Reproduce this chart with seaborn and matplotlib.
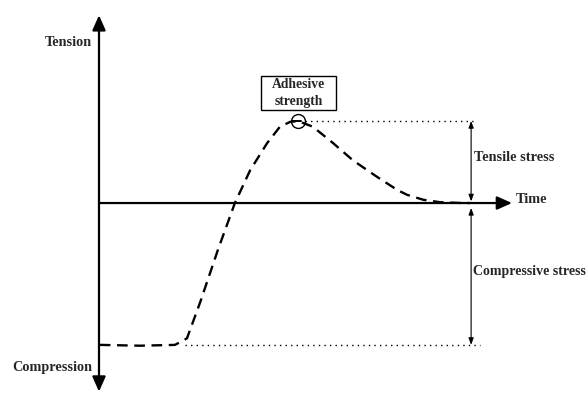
import numpy as np
import pandas as pd
import seaborn as sns
import matplotlib.pyplot as plt
from matplotlib.patches import Rectangle

# curva de tensão na interface ao longo do tempo (unidades arbitrárias)
tempo = [0.02, 0.99, 1.84, 2.13, 2.45, 2.88, 3.29, 3.66, 4.07, 4.38, 4.63, 4.82,
         5.18, 5.67, 6.15, 6.73, 7.22, 7.46, 7.85, 8.26, 8.79, 8.98]
tensao = [-1.73, -1.74, -1.73, -1.65, -1.21, -0.57, 0.0, 0.40, 0.73, 0.93, 0.99, 1.0,
          0.93, 0.73, 0.52, 0.32, 0.16, 0.10, 0.04, 0.01, 0.0, 0.0]

pico_t = 4.82
pico_s = 1.0
compressao_s = -1.73

df = pd.DataFrame({"tempo": tempo, "tensao": tensao})

sns.set_style("white")
plt.rcParams["font.family"] = ["Liberation Serif", "DejaVu Serif"]
plt.rcParams["font.weight"] = "bold"

fig = plt.figure(figsize=(5.88, 3.94), dpi=100)
ax = fig.add_axes([0, 0, 1, 1])
ax.set_xlim(-2.397, 11.84)
ax.set_ylim(-2.329, 2.476)
ax.axis("off")

# eixos com setas
ax.annotate("", xy=(10.0, 0), xytext=(0, 0),
            arrowprops=dict(arrowstyle="-|>,head_length=0.9,head_width=0.4", lw=1.6, color="black",
                            shrinkA=0, shrinkB=0))
ax.annotate("", xy=(0, 2.29), xytext=(0, -2.30),
            arrowprops=dict(arrowstyle="<|-|>,head_length=0.9,head_width=0.4", lw=1.6, color="black",
                            shrinkA=0, shrinkB=0))

# curva tracejada
sns.lineplot(data=df, x="tempo", y="tensao", ax=ax, sort=False, color="black",
             linewidth=1.7, dashes=False, estimator=None)
ax.lines[-1].set_dashes((4.5, 2.8))

# linhas pontilhadas de referência
ax.plot([4.99, 9.13], [pico_s, pico_s], color="black", lw=1.0, linestyle=(0, (1, 3)))
ax.plot([2.08, 9.22], [compressao_s, compressao_s], color="black", lw=1.0, linestyle=(0, (1, 3)))

# marca da resistência adesiva
ax.plot([pico_t], [pico_s], marker="o", markersize=10, markerfacecolor="none",
        markeredgecolor="black", markeredgewidth=1.0)
ax.plot([pico_t - 0.14, pico_t + 0.06], [pico_s, pico_s], color="black", lw=1.4)
ax.add_patch(Rectangle((3.93, 1.134), 1.816, 0.415, fill=False, edgecolor="black", lw=1.0))
ax.text(4.84, 1.34, "Adhesive\nstrength", ha="center", va="center", fontsize=9.8,
        fontweight="bold", linespacing=1.45)

# setas de tensão de tração e compressão
ax.annotate("", xy=(9.01, 0.02), xytext=(9.01, pico_s),
            arrowprops=dict(arrowstyle="<|-|>,head_length=0.4,head_width=0.15", lw=0.8,
                            color="black", shrinkA=0, shrinkB=0))
ax.annotate("", xy=(9.01, -0.06), xytext=(9.01, compressao_s),
            arrowprops=dict(arrowstyle="<|-|>,head_length=0.4,head_width=0.15", lw=0.8,
                            color="black", shrinkA=0, shrinkB=0))

ax.text(-0.17, 1.96, "Tension", ha="right", va="center", fontsize=10.3, fontweight="bold")
ax.text(-0.17, -2.0, "Compression", ha="right", va="center", fontsize=10.3, fontweight="bold")
ax.text(10.1, 0.04, "Time", ha="left", va="center", fontsize=10.3, fontweight="bold")
ax.text(9.08, 0.56, "Tensile stress", ha="left", va="center", fontsize=10.3, fontweight="bold")
ax.text(9.06, -0.84, "Compressive stress", ha="left", va="center", fontsize=10.0, fontweight="bold")

fig.savefig("out.png", dpi=100)
